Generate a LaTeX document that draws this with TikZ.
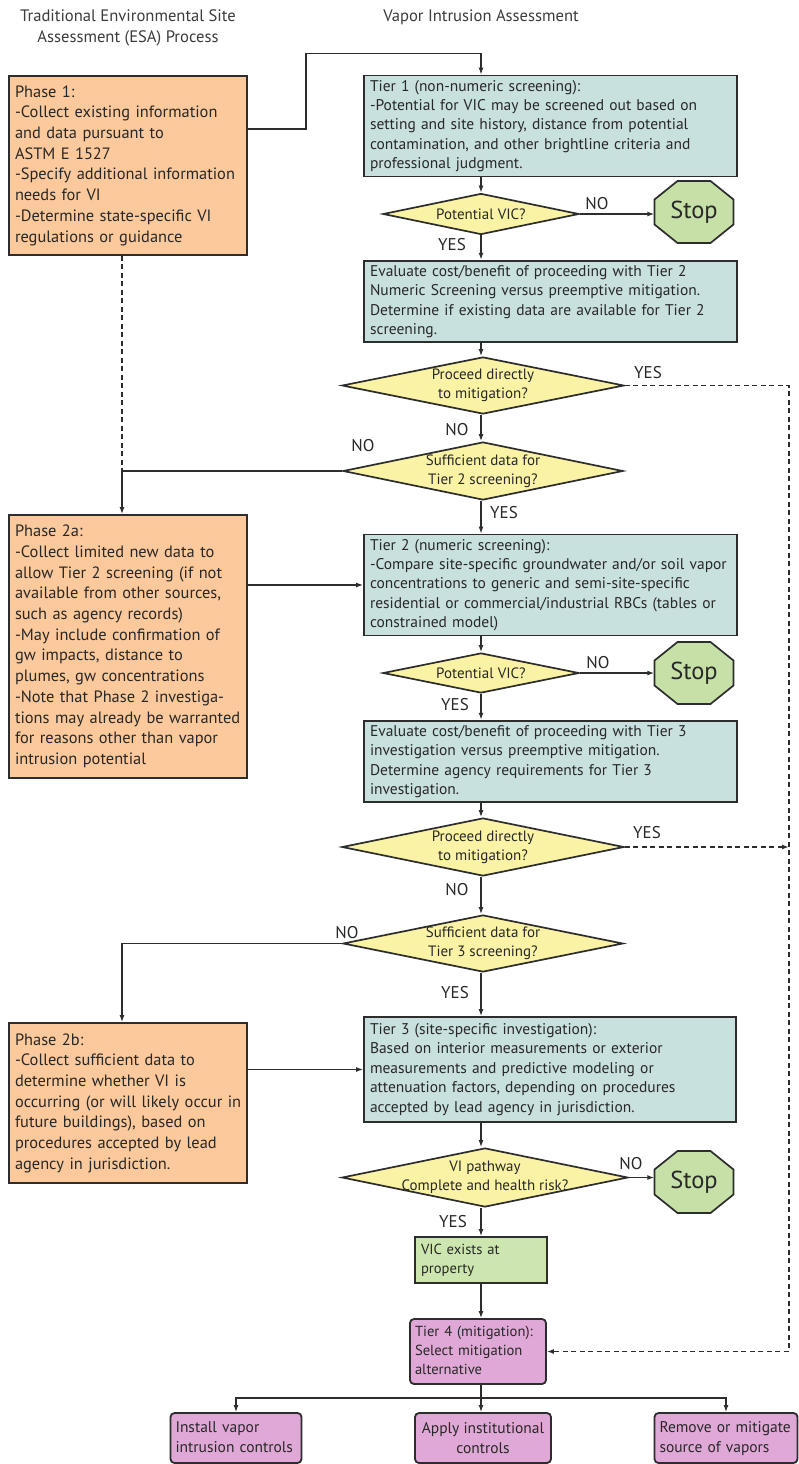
\documentclass[tikz,border=0pt]{standalone}
\usepackage{fontspec}
\setmainfont{PT Sans}
\usetikzlibrary{arrows.meta,shapes.geometric,calc}
\definecolor{phasec}{RGB}{251,201,155}
\definecolor{tierc}{RGB}{200,224,222}
\definecolor{diac}{RGB}{250,243,165}
\definecolor{stopc}{RGB}{198,224,168}
\definecolor{vicc}{RGB}{205,230,175}
\definecolor{pinkc}{RGB}{224,168,214}
\definecolor{bord}{RGB}{45,45,45}
\definecolor{txt}{RGB}{40,40,40}
\definecolor{hdrc}{RGB}{60,60,60}
\newcommand\phasefont{\fontsize{16.4}{20.7}\selectfont}
\newcommand\tierfont{\fontsize{15.5}{19.4}\selectfont}
\newcommand\smallfont{\fontsize{14.6}{19.2}\selectfont}
\newcommand\botfont{\fontsize{15.5}{20}\selectfont}
\newcommand\diafont{\fontsize{15}{19}\selectfont}
\newcommand\labfont{\fontsize{17}{19}\selectfont}
\newcommand\stopfont{\fontsize{24.5}{28}\selectfont}
\newcommand\hdrfont{\fontsize{16.6}{21}\selectfont}
\newcommand\Lns[1]{\begin{tabular}{@{}l@{}}#1\end{tabular}}
\newcommand\octo[2]{\filldraw[octs,shift={(#1,#2)}] (-16.5,-31) -- (16.5,-31) -- (39.5,-12.5) -- (39.5,12.5) -- (16.5,31) -- (-16.5,31) -- (-39.5,12.5) -- (-39.5,-12.5) -- cycle;}
\begin{document}
\begin{tikzpicture}[x=1pt,y=-1pt,
  box/.style={draw=bord, line width=1.8pt, rectangle, inner xsep=6pt, inner ysep=2pt, align=left, text=txt},
  phase/.style={box, fill=phasec, font=\phasefont},
  tier/.style={box, fill=tierc, font=\tierfont},
  dia/.style={diamond, draw=bord, line width=1.7pt, fill=diac, inner sep=0pt},
  dtext/.style={font=\diafont, align=center, text=txt},
  lab/.style={font=\labfont, text=txt, inner sep=0pt},
  hdr/.style={font=\hdrfont, align=center, text=hdrc},
  octs/.style={draw=bord, line width=1.7pt, fill=stopc},
  stopn/.style={rectangle, minimum width=79pt, minimum height=62pt, inner sep=0pt, font=\stopfont, text=txt},
  vicbox/.style={box, fill=vicc, font=\smallfont},
  pinkbox/.style={box, fill=pinkc, font=\botfont, rounded corners=4pt},
  line/.style={draw=bord, line width=1.4pt},
  arr/.style={line, -{Latex[length=7pt,width=5pt]}},
  dline/.style={line, dash pattern=on 5pt off 3.5pt},
  darr/.style={dline, -{Latex[length=7pt,width=5pt]}}
]
\useasboundingbox (0,0) rectangle (798,1464);
\fill[white] (0,0) rectangle (798,1464);
\coordinate (ax) at (481,0);
\coordinate (lx) at (122,0);
\coordinate (dx) at (789,0);

% headers
\node[hdr] (h1) at (128,28) {Traditional Environmental Site\\Assessment (ESA) Process};
\node[hdr] (h2) at (481,17) {Vapor Intrusion Assessment};

% left column
\node[phase, minimum width=238pt, text width=226pt, minimum height=179pt] (p1) at (128,165.5) {\Lns{Phase 1:\\-Collect existing information\\and data pursuant to\\ASTM E 1527\\-Specify additional information\\needs for VI\\-Determine state-specific VI\\regulations or guidance}};
\node[phase, minimum width=238pt, text width=226pt, minimum height=263pt] (p2a) at (128,646.5) {\Lns{Phase 2a:\\-Collect limited new data to\\allow Tier 2 screening (if not\\available from other sources,\\such as agency records)\\-May include confirmation of\\gw impacts, distance to\\plumes, gw concentrations\\-Note that Phase 2 investiga-\\tions may already be warranted\\for reasons other than vapor\\intrusion potential}};
\node[phase, minimum width=238pt, text width=226pt, minimum height=160pt] (p2b) at (128,1103) {\Lns{Phase 2b:\\-Collect sufficient data to\\determine whether VI is\\occurring (or will likely occur in\\future buildings), based on\\procedures accepted by lead\\agency in jurisdiction.}};

% right column
\node[tier, minimum width=373pt, text width=361pt, minimum height=100pt] (t1) at (550.5,126) {\Lns{Tier 1 (non-numeric screening):\\-Potential for VIC may be screened out based on\\setting and site history, distance from potential\\contamination, and other brightline criteria and\\professional judgment.}};
\node[dia, minimum width=196pt, minimum height=41pt, label={[dtext]center:Potential VIC?}] (d1) at (481,214) {};
\octo{694}{212}
\node[stopn] (s1) at (694,212) {Stop};
\node[tier, minimum width=373pt, text width=361pt, minimum height=81pt] (e1) at (550.5,301.5) {\Lns{Evaluate cost/benefit of proceeding with Tier 2\\Numeric Screening versus preemptive mitigation.\\Determine if existing data are available for Tier 2\\screening.}};
\node[dia, minimum width=282pt, minimum height=57pt, label={[dtext]center:Proceed directly\\to mitigation?}] (d2) at (483,385.5) {};
\node[dia, minimum width=280pt, minimum height=58pt, label={[dtext]center:Sufficient data for\\Tier 2 screening?}] (d3) at (483,471) {};
\node[tier, minimum width=373pt, text width=361pt, minimum height=100pt] (t2) at (550.5,585) {\Lns{Tier 2 (numeric screening):\\-Compare site-specific groundwater and/or soil vapor\\concentrations to generic and semi-site-specific\\residential or commercial/industrial RBCs (tables or\\constrained model)}};
\node[dia, minimum width=196pt, minimum height=40pt, label={[dtext]center:Potential VIC?}] (d4) at (481,673) {};
\octo{694}{673}
\node[stopn] (s2) at (694,673) {Stop};
\node[tier, minimum width=373pt, text width=361pt, minimum height=81pt] (e2) at (550.5,761.5) {\Lns{Evaluate cost/benefit of proceeding with Tier 3\\investigation versus preemptive mitigation.\\Determine agency requirements for Tier 3\\investigation.}};
\node[dia, minimum width=282pt, minimum height=58pt, label={[dtext]center:Proceed directly\\to mitigation?}] (d5) at (483,847) {};
\node[dia, minimum width=280pt, minimum height=57pt, label={[dtext]center:Sufficient data for\\Tier 3 screening?}] (d6) at (483,943.5) {};
\node[tier, minimum width=372pt, text width=360pt, minimum height=105pt] (t3) at (550,1069.5) {\Lns{Tier 3 (site-specific investigation):\\Based on interior measurements or exterior\\measurements and predictive modeling or\\attenuation factors, depending on procedures\\accepted by lead agency in jurisdiction.}};
\node[dia, minimum width=286pt, minimum height=59pt, label={[dtext]center:VI pathway\\Complete and health risk?}] (d7) at (485,1177.5) {};
\octo{694}{1182}
\node[stopn] (s3) at (694,1182) {Stop};
\node[vicbox, minimum width=132pt, text width=120pt, minimum height=46pt] (vic) at (481,1260) {\Lns{VIC exists at\\property}};
\node[pinkbox, font=\smallfont, minimum width=136pt, text width=126pt, inner xsep=5pt, minimum height=65pt] (t4) at (478,1351.5) {\Lns{Tier 4 (mitigation):\\Select mitigation\\alternative}};
\node[pinkbox, minimum width=131pt, text width=121pt, inner xsep=5pt, minimum height=50pt] (b1) at (236,1438) {\Lns{Install vapor\\intrusion controls}};
\node[pinkbox, minimum width=136pt, minimum height=50pt, align=center] (b2) at (483,1438) {Apply institutional\\controls};
\node[pinkbox, minimum width=143pt, text width=133pt, inner xsep=5pt, minimum height=50pt] (b3) at (726,1438) {\Lns{Remove or mitigate\\source of vapors}};

% connectors
\draw[arr] ($(p1.north east)+(0,54)$) -- ($(p1.north east)+(58,54)$) |- ($(t1.north -| ax)+(0,-21)$) -- (t1.north -| ax);
\draw[arr] (t1.south -| ax) -- (ax |- d1.north);
\draw[arr] (d1.east) -- (d1.east -| s1.west);
\draw[arr] (d1.south) -- (e1.north -| ax);
\draw[arr] (e1.south -| ax) -- (ax |- d2.north);
\draw[arr] (ax |- d2.south) -- (ax |- d3.north);
\draw[dline] (p1.south -| lx) -- (d3.west -| lx);
\draw[arr] (d3.west) -| (p2a.north -| lx);
\draw[arr] (ax |- d3.south) -- (t2.north -| ax);
\draw[arr] (p2a.east |- t2.west) -- (t2.west);
\draw[darr] (d2.east) -- (d2.east -| dx) |- (t4.east);
\draw[arr] (t2.south -| ax) -- (d4.north);
\draw[arr] (d4.east) -- (d4.east -| s2.west);
\draw[arr] (d4.south) -- (e2.north -| ax);
\draw[arr] (e2.south -| ax) -- (ax |- d5.north);
\draw[darr] (d5.east) -- (d5.east -| dx);
\draw[arr] (ax |- d5.south) -- (ax |- d6.north);
\draw[arr] (d6.west) -| (p2b.north -| lx);
\draw[arr] (ax |- d6.south) -- (t3.north -| ax);
\draw[arr] (p2b.east |- t3.west) -- (t3.west);
\draw[arr] (t3.south -| ax) -- (ax |- d7.north);
\draw[arr] (d7.east) -- (d7.east -| s3.west);
\draw[arr] (ax |- d7.south) -- (vic.north);
\draw[arr] (vic.south) -- (vic.south |- t4.north);
\coordinate (br) at ($(t4.south -| vic)+(0,13)$);
\draw[line] (t4.south -| vic) -- (br);
\draw[arr] (br) -| (b1.north);
\draw[arr] (br) -| (b3.north);
\draw[arr] (br) -- (br |- b2.north);

% labels
\node[lab] (n1) at (597,204) {NO};
\node[lab] (y1) at (452,245) {YES};
\node[lab] (y2) at (648,373) {YES};
\node[lab] (n2) at (457,430) {NO};
\node[lab] (n3) at (363,446) {NO};
\node[lab] (y3) at (504,513) {YES};
\node[lab] (n4) at (598,663) {NO};
\node[lab] (y4) at (455,705) {YES};
\node[lab] (y5) at (647,833) {YES};
\node[lab] (n5) at (457,890) {NO};
\node[lab] (n6) at (347,933) {NO};
\node[lab] (y6) at (455,993) {YES};
\node[lab] (n7) at (631,1164) {NO};
\node[lab] (y7) at (453,1222) {YES};
\end{tikzpicture}
\end{document}
